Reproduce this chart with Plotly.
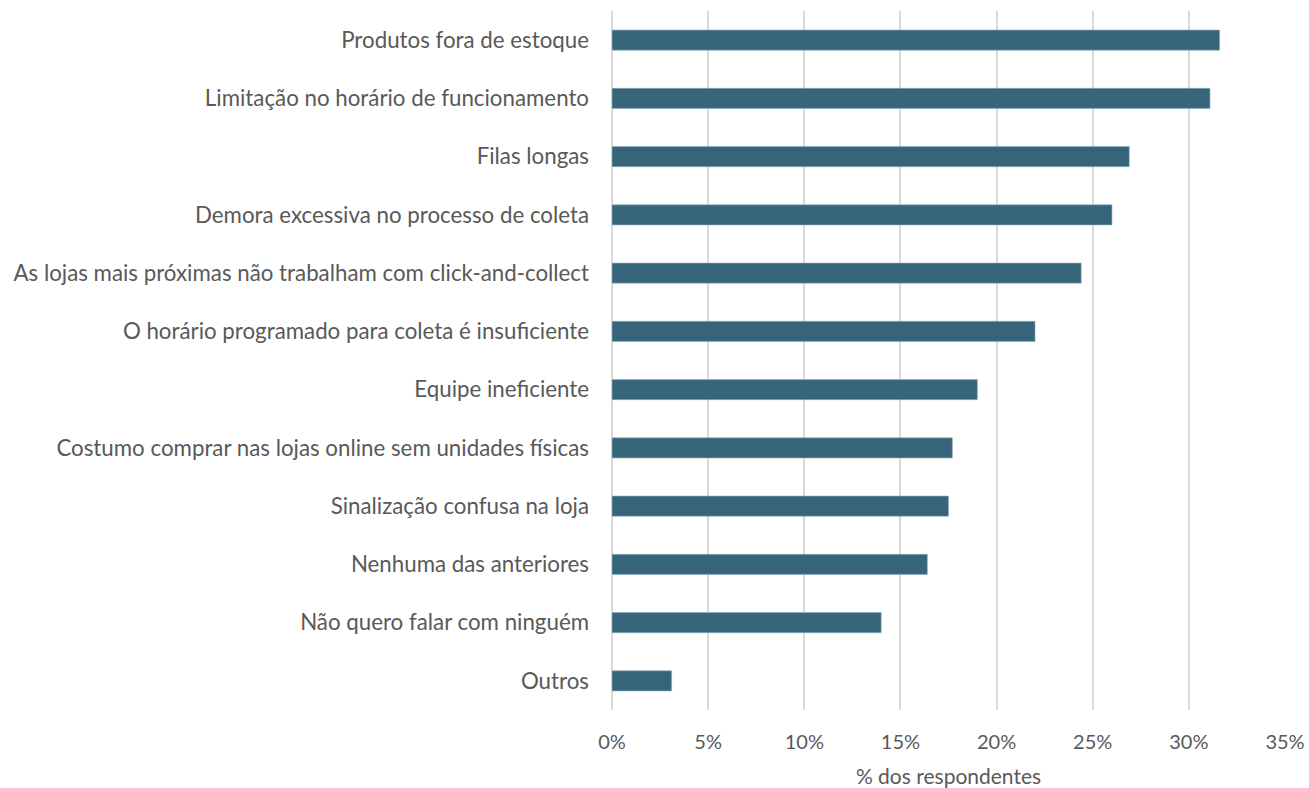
import plotly.graph_objects as go

categories = [
    "Produtos fora de estoque",
    "Limitação no horário de funcionamento",
    "Filas longas",
    "Demora excessiva no processo de coleta",
    "As lojas mais próximas não trabalham com click-and-collect",
    "O horário programado para coleta é insuficiente",
    "Equipe ineficiente",
    "Costumo comprar nas lojas online sem unidades físicas",
    "Sinalização confusa na loja",
    "Nenhuma das anteriores",
    "Não quero falar com ninguém",
    "Outros",
]
values = [31.6, 31.1, 26.9, 26.0, 24.4, 22.0, 19.0, 17.7, 17.5, 16.4, 14.0, 3.1]
x_ticks = [0, 5, 10, 15, 20, 25, 30, 35]

FONT = "Lato, 'Open Sans', sans-serif"
GREY = "#595959"

fig = go.Figure(
    go.Bar(
        x=values,
        y=categories,
        orientation="h",
        marker=dict(color="#36657A", line=dict(color="#8FAFC0", width=0.6)),
        width=0.345,
    )
)

fig.update_layout(
    width=1309,
    height=788,
    margin=dict(l=612, r=24, t=11, b=78),
    paper_bgcolor="white",
    plot_bgcolor="white",
    showlegend=False,
    font=dict(family=FONT, size=20, color=GREY),
    xaxis=dict(
        range=[0, 35],
        tickvals=x_ticks,
        ticktext=[f"{t}%" for t in x_ticks],
        showgrid=True,
        gridcolor="#D9D9D9",
        gridwidth=2,
        zeroline=True,
        zerolinecolor="#D9D9D9",
        zerolinewidth=2,
        showline=False,
        ticks="",
        automargin=False,
        ticklabelstandoff=18,
        tickfont=dict(family=FONT, size=20, color=GREY),
        title=dict(text="% dos respondentes", font=dict(family=FONT, size=21, color=GREY), standoff=18),
    ),
    yaxis=dict(
        categoryorder="array",
        categoryarray=categories[::-1],
        showgrid=False,
        zeroline=False,
        showline=False,
        ticks="",
        automargin=False,
        ticklabelstandoff=22,
        tickfont=dict(family=FONT, size=22.3, color=GREY),
    ),
)

fig.write_html("out.html")
